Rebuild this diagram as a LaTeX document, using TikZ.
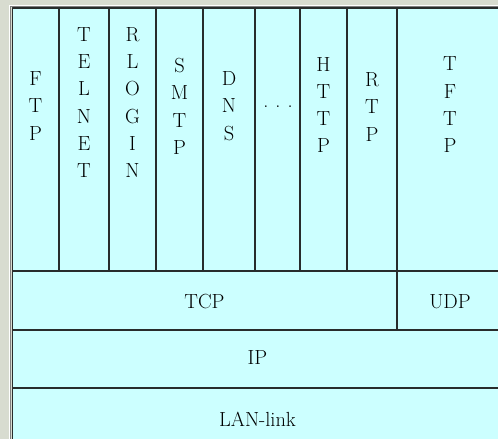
\documentclass[tikz,border=0pt]{standalone}
\definecolor{panel}{RGB}{216,220,208}
\definecolor{cell}{RGB}{204,255,255}
\definecolor{rule}{RGB}{40,44,44}
\tikzset{lbl/.style={font=\fontsize{20.5}{27.4}\selectfont, align=center, inner sep=0pt}}

\begin{document}
\begin{tikzpicture}[x=1bp, y=-1bp, line join = round]
    \useasboundingbox (0,0) rectangle (498,439);
    \clip (0,0) rectangle (498,439);
    \fill[panel] (0,0) rectangle (498,439);

    % sunken frame round the table
    \draw[white, line width=1.2bp] (9.5,439) -- (9.5,5.5) -- (498,5.5);
    \draw[gray, line width=1bp] (10.8,439) -- (10.8,6.6) -- (498,6.6);
    \fill[cell] (12,7.5) rectangle (503,450);
    \draw[rule, line width=1.4bp] (12.3,450) -- (12.3,7.9) -- (503,7.9);

    % layers
    \draw[rule, line width=1.2bp] (12,271) -- (503,271) (12,330) -- (503,330) (12,388) -- (503,388);
    \draw[rule, line width=1.2bp] (397,7) -- (397,330);
    \foreach \x in {59,109,156,203,255,300,347}
        \draw[rule, line width=1.2bp] (\x,7) -- (\x,271);

    % application protocols
    \node[lbl] (ftp) at (35.5,106) {F\\T\\P};
    \node[lbl] (telnet) at (84,102.5) {T\\E\\L\\N\\E\\T};
    \node[lbl] (rlogin) at (132.5,102.5) {R\\L\\O\\G\\I\\N};
    \node[lbl] (smtp) at (179.5,106.5) {S\\M\\T\\P};
    \node[lbl] (dns) at (229,106) {D\\N\\S};
    \node[lbl] (more) at (278,107) {.\hskip 7bp.\hskip 7bp.};
    \node[lbl] (http) at (323.5,105) {H\\T\\T\\P};
    \node[lbl] (rtp) at (372,107) {R\\T\\P};
    \node[lbl] (tftp) at (450,105) {T\\F\\T\\P};

    \node[lbl] (tcp) at (204.5,302) {TCP};
    \node[lbl] (udp) at (450,302) {UDP};
    \node[lbl] (ip) at (257.5,358) {IP};
    \node[lbl] (lan) at (257.5,419) {LAN-link};

\end{tikzpicture}
\end{document}
